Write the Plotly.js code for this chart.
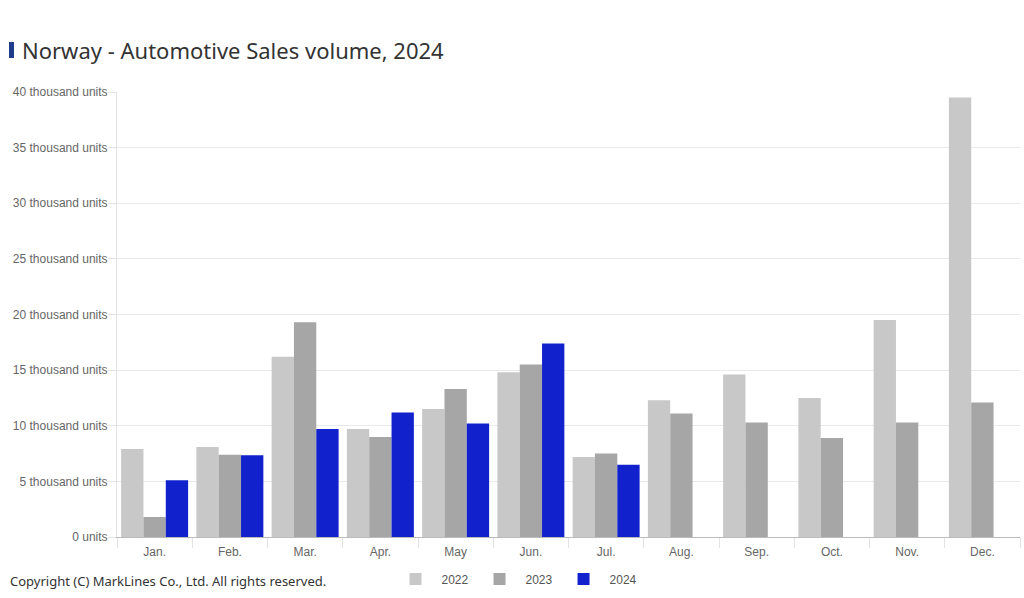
<!DOCTYPE html>
<html>
<head>
<meta charset="utf-8">
<script src="https://cdn.plot.ly/plotly-3.0.1.min.js"></script>
<style>
  html, body { margin: 0; padding: 0; background: #fff; }
  #chart { width: 1024px; height: 598px; }
</style>
</head>
<body>
<div id="chart"></div>
<script>
const months = ["Jan.", "Feb.", "Mar.", "Apr.", "May", "Jun.", "Jul.", "Aug.", "Sep.", "Oct.", "Nov.", "Dec."];
const sales2022 = [7900, 8100, 16200, 9700, 11500, 14800, 7200, 12300, 14600, 12500, 19500, 39500];
const sales2023 = [1800, 7400, 19300, 9000, 13300, 15500, 7500, 11100, 10300, 8900, 10300, 12100];
const sales2024 = [5100, 7350, 9700, 11200, 10200, 17400, 6500, null, null, null, null, null];
const seriesNames = ["2022", "2023", "2024"];
const yTickVals = [0, 5000, 10000, 15000, 20000, 25000, 30000, 35000, 40000];
const yTickText = ["0 units", "5 thousand units", "10 thousand units", "15 thousand units", "20 thousand units", "25 thousand units", "30 thousand units", "35 thousand units", "40 thousand units"];
const titleText = "Norway - Automotive Sales volume, 2024";
const copyrightText = "Copyright (C) MarkLines Co., Ltd. All rights reserved.";

const colors = ["#c8c8c8", "#a6a6a6", "#1122cc"];
const allSeries = [sales2022, sales2023, sales2024];

const traces = allSeries.map((vals, i) => ({
  type: "bar",
  name: seriesNames[i],
  x: months,
  y: vals,
  marker: { color: colors[i], line: { width: 0 } },
  hoverinfo: "x+y+name"
}));

const layout = {
  width: 1024,
  height: 598,
  paper_bgcolor: "#ffffff",
  plot_bgcolor: "#ffffff",
  margin: { l: 117, r: 4, t: 92, b: 61 },
  barmode: "group",
  bargap: 0.11,
  bargroupgap: 0,
  font: { family: "Liberation Sans, Arial, sans-serif", size: 12, color: "#555" },
  title: {
    text: titleText,
    font: { family: "Noto Sans, sans-serif", size: 22, color: "#333" },
    x: 22 / 1024,
    xref: "container",
    xanchor: "left",
    y: 1 - 51 / 598,
    yref: "container",
    yanchor: "middle"
  },
  xaxis: {
    type: "category",
    showgrid: false,
    showline: true,
    linecolor: "#bbbbbb",
    linewidth: 1,
    ticks: "outside",
    tickson: "boundaries",
    ticklen: 10,
    tickcolor: "#e3e3e3",
    ticklabelstandoff: 4,
    tickfont: { size: 12, color: "#666" }
  },
  yaxis: {
    range: [0, 40000],
    tickvals: yTickVals,
    ticktext: yTickText,
    showgrid: true,
    gridcolor: "#e9e9e9",
    zeroline: false,
    showline: true,
    linecolor: "#e3e3e3",
    ticks: "outside",
    ticklen: 8,
    tickcolor: "#e3e3e3",
    ticklabelstandoff: -2,
    tickfont: { size: 12, color: "#666" },
    fixedrange: true
  },
  showlegend: true,
  legend: {
    orientation: "h",
    xref: "container",
    yref: "container",
    x: 516 / 1024,
    xanchor: "center",
    y: 1 - 579 / 598,
    yanchor: "middle",
    font: { size: 12, color: "#555" },
    itemwidth: 42,
    traceorder: "normal"
  },
  shapes: [{
    type: "rect",
    xref: "paper",
    yref: "paper",
    x0: (9 - 117) / 903,
    x1: (14 - 117) / 903,
    y0: (537 - 58) / 445,
    y1: (537 - 42) / 445,
    fillcolor: "#1f3c8a",
    line: { width: 0 }
  }],
  annotations: [{
    text: copyrightText,
    xref: "paper",
    yref: "paper",
    x: (8 - 117) / 903,
    xanchor: "left",
    y: (537 - 581) / 445,
    yanchor: "middle",
    showarrow: false,
    font: { family: "Noto Sans, sans-serif", size: 13, color: "#333" }
  }]
};

Plotly.newPlot("chart", traces, layout, { displayModeBar: false, responsive: false });
</script>
</body>
</html>
